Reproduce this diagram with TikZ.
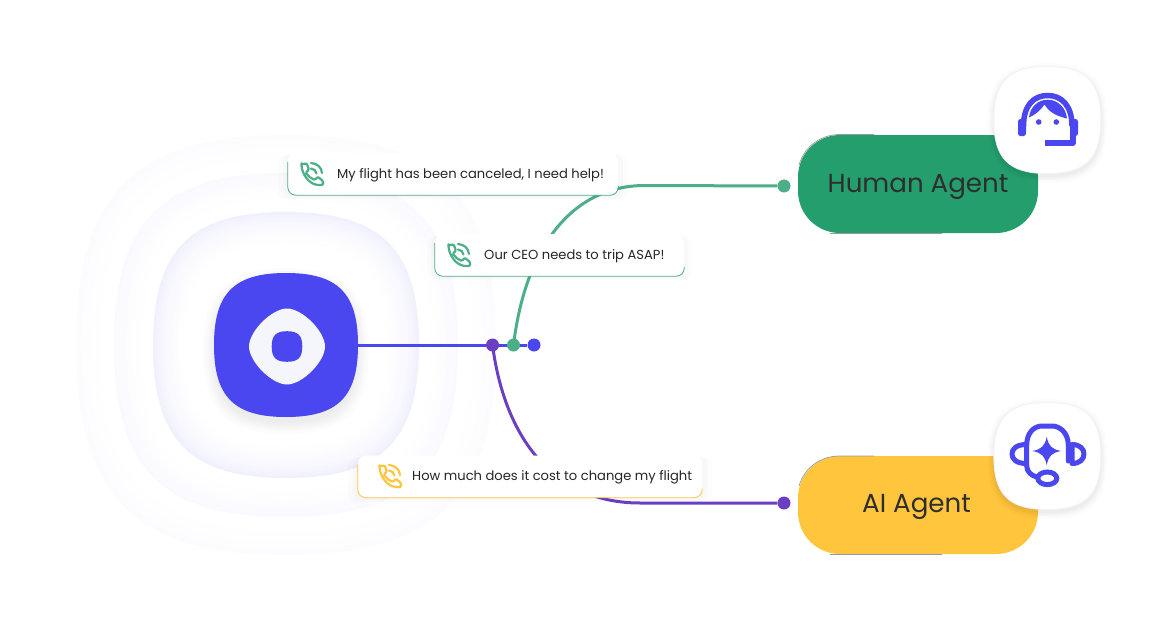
\documentclass[tikz,border=0pt]{standalone}
\usepackage{fontspec}
\setmainfont{Poppins}
\usetikzlibrary{positioning, calc, backgrounds, shadows}

\definecolor{logoblue}{HTML}{4A47F0}
\definecolor{callgreen}{HTML}{4CAF87}
\definecolor{callpurple}{HTML}{6A3FC4}
\definecolor{humangreen}{HTML}{259E6E}
\definecolor{aiyellow}{HTML}{FFC53D}
\definecolor{petal}{HTML}{F5F5FC}
\definecolor{ringedge}{HTML}{F1F1FD}
\definecolor{ringmid}{HTML}{F9F9FF}
\definecolor{ringfaint}{HTML}{FCFCFF}

% squircle outline round the origin: half size, control factor
\newcommand{\squirclepath}[2]{(#1,0) .. controls (#1,#2*#1) and (#2*#1,#1) .. (0,#1)
  .. controls (-#2*#1,#1) and (-#1,#2*#1) .. (-#1,0)
  .. controls (-#1,-#2*#1) and (-#2*#1,-#1) .. (0,-#1)
  .. controls (#2*#1,-#1) and (#1,-#2*#1) .. (#1,0) -- cycle}

\tikzset{
  dot/.style={circle, fill=#1, inner sep=0pt, minimum size=13pt},
  wire/.style={line width=3pt, color=#1},
  callcard/.style={rectangle, fill=white, rounded corners=8pt, minimum height=42pt,
    general shadow={fill=black, opacity=.012, shadow scale=1.06, shadow yshift=-3pt},
    general shadow={fill=black, opacity=.016, shadow scale=1.03, shadow yshift=-2pt}},
  cardtext/.style={anchor=west, inner sep=0pt, text=black!85, font=\fontsize{13.1}{16}\selectfont},
  agentbox/.style={rectangle, fill=#1, rounded corners=42pt, minimum width=240pt, minimum height=98pt},
  agenttext/.style={inner sep=0pt, text=black!82, font=\fontsize{26.1}{32}\selectfont},
  pics/callicon/.style={code={
    \draw[#1, line width=2.2pt, line join=round, rounded corners=1.2pt]
      (0.5,2.5) -- (5.7,1.3) -- (8,8) -- (4.7,10.3) .. controls (7,14) and (10,16.5) .. (14,18)
      -- (16.7,14.7) -- (22,19) -- (22,23) -- (17.3,23) .. controls (8,22) and (1,12) .. (0.5,2.5) -- cycle;
    \draw[#1, line width=2.2pt, line cap=round] (10,1) .. controls (16,1.5) and (20.5,5) .. (21,11);
    \draw[#1, line width=2.2pt, line cap=round] (10,6.5) .. controls (13,7) and (15,8.5) .. (15.5,11.5);
  }},
}

\begin{document}
\begin{tikzpicture}[x=1pt, y=-1pt]

\useasboundingbox (0,0) rectangle (1176,621);

% ---- Logo and its rings ---------------------------------------------------
\begin{scope}[on background layer]
  \fill[white] (0,0) rectangle (1176,621);
  \foreach \rim/\edge in {210/ringfaint,172/ringmid,133/ringedge}{
    \foreach \i [evaluate=\i as \half using \rim-2.6*\i, evaluate=\i as \tint using 100*(1-\i/14)^2] in {0,...,14}{
      \fill[shift={(286,345)}, color=\edge!\tint!white] \squirclepath{\half}{.72};
    }
  }
  \foreach \a in {72,74,76,78,80,83}{
    \fill[shift={(286,351)}, black, opacity=.01] \squirclepath{\a}{.72};
  }
\end{scope}
\fill[shift={(286,345)}, logoblue] \squirclepath{72}{.72};
\fill[shift={(287,346.5)}, petal] \squirclepath{38}{.4};
\fill[shift={(287,346.5)}, logoblue] \squirclepath{15.3}{.72};
\node[inner sep=0pt, minimum size=144pt] (logo) at (286,345) {};

% ---- Junction dots --------------------------------------------------------
\node[dot=logoblue] (bluedot) at (534,345) {};
\node[dot=callpurple] (purpledot) at (492.5,345) {};
\node[dot=callgreen] (greendot) at (513.5,345) {};
\node[dot=callgreen] (humandot) at (784,186) {};
\node[dot=callpurple] (aidot) at (784,503) {};

\begin{scope}[on background layer]
  \draw[wire=logoblue] (logo.east) -- (bluedot);
  \draw[wire=callgreen] (greendot.center) .. controls (525,250) and (570,185.5) .. (645,185.5) -- (humandot);
  \draw[wire=callpurple] (purpledot.center) .. controls (505,440) and (555,503) .. (640,503) -- (aidot);
\end{scope}

% ---- Call cards -----------------------------------------------------------
\node[callcard, minimum width=330pt] (flightcard) at (453,174) {};
\node[callcard, minimum width=249pt] (ceocard) at (559.5,255) {};
\node[callcard, minimum width=344pt] (costcard) at (530,476.5) {};

\foreach \card/\tone in {flightcard/callgreen,ceocard/callgreen,costcard/aiyellow}{
  \draw[\tone, line width=.8pt, rounded corners=8pt]
    ([yshift=-9pt]\card.north west) -- (\card.south west) -- (\card.south east) -- ([yshift=9pt]\card.south east);
}

\pic at (301,162) {callicon=callgreen};
\pic at (448,243) {callicon=callgreen};
\pic at (379,464) {callicon=aiyellow};

\node[cardtext] (flighttext) at (337,175.5) {My flight has been canceled, I need help!};
\node[cardtext] (ceotext) at (484,256.5) {Our CEO needs to trip ASAP!};
\node[cardtext] (costtext) at (412,477) {How much does it cost to change my flight};

% ---- Agents ---------------------------------------------------------------
\node[agentbox=humangreen] (humanbox) at (918,184) {};
\node[agentbox=aiyellow] (aibox) at (918,505) {};
\node[agenttext] (humanlabel) at (918,186.5) {Human Agent};
\node[agenttext] (ailabel) at (916.5,507) {AI Agent};

% thin dark edge left on the boxes
\draw[black!40, line width=.7pt] (799,165) .. controls (805,145) and (822,134.5) .. (840,134.5) -- (874,134.5);
\draw[black!40, line width=.7pt] (830,233) -- (942,233);
\draw[black!40, line width=.7pt] (799,486) .. controls (805,466) and (822,456) .. (840,456) -- (874,456);
\draw[black!40, line width=.7pt] (830,554) -- (942,554);

% ---- Icon tiles -----------------------------------------------------------
\foreach \cy in {120,456}{
  \foreach \a in {54,55,56,57,58,60}{
    \fill[shift={(1047.3,\cy+3)}, black, opacity=.011] \squirclepath{\a}{.72};
  }
  \filldraw[shift={(1047.3,\cy)}, fill=white, draw=ringedge, line width=.8pt] \squirclepath{53.5}{.72};
}

% headset with hair
\draw[logoblue, line width=5.5pt] (1023.5,126) .. controls (1023.5,105) and (1034,95.5) .. (1047.7,95.5)
  .. controls (1061,95.5) and (1072,105) .. (1072,126);
\fill[logoblue, rounded corners=2.5pt] (1018,119) rectangle (1026,136);
\fill[logoblue, rounded corners=2.5pt] (1070,119) rectangle (1078,136);
\draw[logoblue, line width=5.5pt, line join=round] (1073,133) -- (1073,143) -- (1045,143);
\fill[logoblue] (1029,117.5) .. controls (1030,107) and (1038,99.7) .. (1047.7,99.7)
  .. controls (1058,99.7) and (1066,108) .. (1067,118.5)
  .. controls (1056,116) and (1049,112) .. (1044.5,104.5)
  .. controls (1041,110) and (1035,115) .. (1029,117.5) -- cycle;
\foreach \ex in {1038.7,1056.3}{\fill[logoblue] (\ex,122) circle (2.8pt);}

% headset with star
\draw[logoblue, line width=5pt, line cap=round, line join=round] (1068.3,461) -- (1068.3,445)
  .. controls (1068.3,433) and (1060,426) .. (1052,426) -- (1042,426)
  .. controls (1034,426) and (1026.7,433) .. (1026.7,445) -- (1026.7,466)
  .. controls (1026.7,472) and (1032,476) .. (1037,477);
\draw[logoblue, line width=5pt, line join=round] (1026.7,444.5) .. controls (1016,444.5) and (1012,449) .. (1012,454)
  .. controls (1012,459) and (1016,463.5) .. (1026.7,463.5);
\draw[logoblue, line width=5pt, line join=round] (1072,444.5) .. controls (1080,444.5) and (1084,449) .. (1084,454)
  .. controls (1084,459) and (1080,463.5) .. (1072,463.5) -- cycle;
\draw[logoblue, line width=5pt] (1047.3,478.3) ellipse (9.5pt and 6.3pt);
\fill[logoblue, shift={(1046.7,451)}] (14.3,0) .. controls (5,1.8) and (1.8,5) .. (0,14.3)
  .. controls (-1.8,5) and (-5,1.8) .. (-14.3,0) .. controls (-5,-1.8) and (-1.8,-5) .. (0,-14.3)
  .. controls (1.8,-5) and (5,-1.8) .. (14.3,0) -- cycle;

\end{tikzpicture}
\end{document}
